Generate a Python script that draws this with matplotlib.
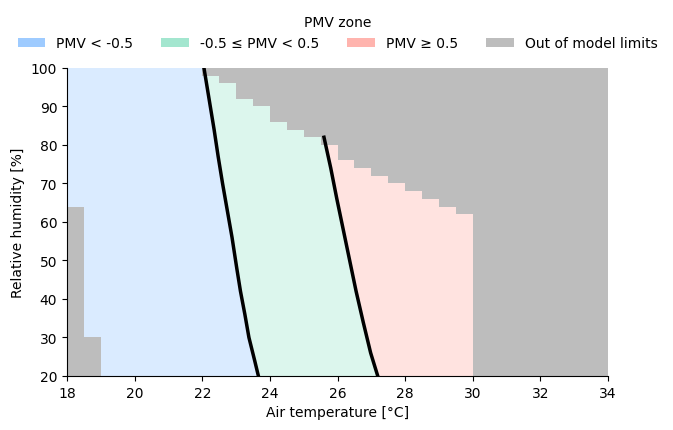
import numpy as np
import matplotlib
matplotlib.use("Agg")
import matplotlib.pyplot as plt
from matplotlib.patches import Polygon, Patch
from matplotlib.colors import to_rgb

# colonnes de la zone valide du modele (bords en temperature, bornes en humidite)
t_edges = [18, 18.5, 19, 22, 22.5, 23, 23.5, 24, 24.5, 25, 25.5,
           26, 26.5, 27, 27.5, 28, 28.5, 29, 29.5, 30]
rh_low = [64, 30, 20, 20, 20, 20, 20, 20, 20, 20,
          20, 20, 20, 20, 20, 20, 20, 20, 20]
rh_high = [100, 100, 100, 98, 96, 92, 90, 86, 84, 82,
           80, 76, 74, 72, 70, 68, 66, 64, 62]

# isolignes PMV = -0.5 et PMV = +0.5
t_lo = [22.05, 22.2, 22.35, 22.47, 22.6, 22.74, 22.88, 23.02, 23.13, 23.26, 23.38, 23.55, 23.66]
rh_lo = [100, 92, 84, 77, 70, 63, 56, 48, 42, 36, 30, 24, 20]
t_hi = [25.6, 25.8, 25.98, 26.17, 26.36, 26.55, 26.76, 26.98, 27.19]
rh_hi = [82, 74, 66, 58, 50, 42, 34, 26, 20]

labels = ["PMV < -0.5", "-0.5 \u2264 PMV < 0.5", "PMV \u2265 0.5", "Out of model limits"]
couleurs = ["#9ecbff", "#a3e6cf", "#ffb4ae", "#bdbdbd"]
alpha = 0.38


def pale(c):
    r = np.array(to_rgb(c))
    return tuple(1 - alpha * (1 - r))


fig = plt.figure(figsize=(6.73, 4.31), dpi=100)
ax = fig.add_axes([0.0996, 0.1253, 0.8038, 0.7147])
ax.set_facecolor(couleurs[3])

# polygone de la zone valide
haut = []
bas = []
for i in range(len(rh_high)):
    haut += [(t_edges[i], rh_high[i]), (t_edges[i + 1], rh_high[i])]
    bas += [(t_edges[i], rh_low[i]), (t_edges[i + 1], rh_low[i])]
zone = Polygon(haut + bas[::-1], closed=True, facecolor=pale(couleurs[0]), edgecolor="none")
ax.add_patch(zone)

vert = ax.fill_betweenx(rh_lo, t_lo, 34, color=pale(couleurs[1]), linewidth=0)
vert.set_clip_path(zone)
rose = ax.fill_betweenx(rh_hi, t_hi, 34, color=pale(couleurs[2]), linewidth=0)
rose.set_clip_path(zone)

ax.plot(t_lo, rh_lo, color="black", lw=2.5)
ax.plot(t_hi, rh_hi, color="black", lw=2.5)

ax.set_xlim(18, 34)
ax.set_ylim(20, 100)
ax.set_xticks(np.arange(18, 35, 2))
ax.set_yticks(np.arange(20, 101, 10))
ax.spines["top"].set_visible(False)
ax.spines["right"].set_visible(False)
ax.set_xlabel("Air temperature [\u00b0C]")
ax.set_ylabel("Relative humidity [%]")

poignees = [Patch(facecolor=c, edgecolor="none") for c in couleurs]
ax.legend(poignees, labels, title="PMV zone", ncol=4, loc="lower center",
          bbox_to_anchor=(0.5, 1.017), frameon=False)

fig.savefig("out.png", dpi=100)
